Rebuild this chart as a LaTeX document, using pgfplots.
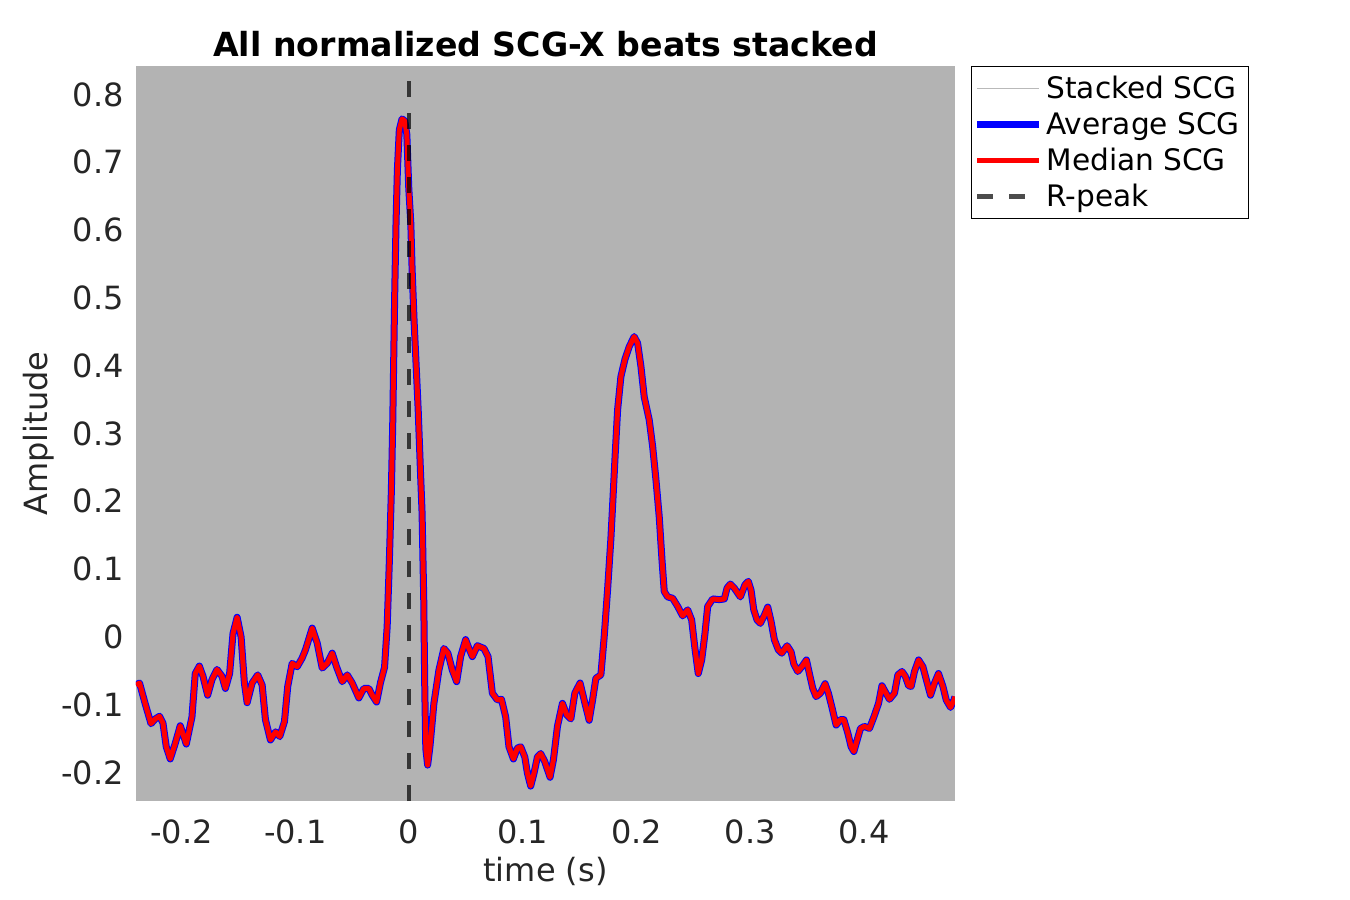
\documentclass[border=0pt]{standalone}
\usepackage{pgfplots}
\pgfplotsset{compat=1.18}
\usepackage{pgfplotstable}
\usepackage{fontspec}
\setmainfont{DejaVu Sans}
\definecolor{bggray}{RGB}{179,179,179}
\definecolor{axgray}{RGB}{38,38,38}
\definecolor{stackgray}{RGB}{185,185,185}

\pgfplotstableread{
x y
-0.2400 -0.071
-0.2369 -0.068
-0.2320 -0.098
-0.2268 -0.128
-0.2231 -0.121
-0.2193 -0.117
-0.2163 -0.127
-0.2134 -0.162
-0.2099 -0.180
-0.2055 -0.157
-0.2011 -0.131
-0.1958 -0.158
-0.1908 -0.118
-0.1879 -0.054
-0.1843 -0.043
-0.1811 -0.058
-0.1770 -0.086
-0.1732 -0.063
-0.1688 -0.048
-0.1644 -0.058
-0.1614 -0.076
-0.1577 -0.054
-0.1547 0.005
-0.1511 0.029
-0.1476 0.000
-0.1447 -0.068
-0.1423 -0.097
-0.1379 -0.068
-0.1330 -0.056
-0.1291 -0.071
-0.1262 -0.122
-0.1218 -0.152
-0.1173 -0.140
-0.1136 -0.147
-0.1095 -0.125
-0.1066 -0.073
-0.1027 -0.039
-0.0983 -0.044
-0.0939 -0.031
-0.0910 -0.019
-0.0851 0.013
-0.0807 -0.009
-0.0763 -0.046
-0.0719 -0.039
-0.0675 -0.024
-0.0637 -0.044
-0.0587 -0.066
-0.0543 -0.056
-0.0499 -0.068
-0.0441 -0.090
-0.0397 -0.076
-0.0353 -0.076
-0.0323 -0.086
-0.0285 -0.096
-0.0250 -0.067
-0.0215 -0.045
-0.0192 0.015
-0.0173 0.110
-0.0155 0.215
-0.0143 0.314
-0.0134 0.413
-0.0125 0.511
-0.0114 0.610
-0.0102 0.689
-0.0085 0.748
-0.0061 0.764
-0.0037 0.761
-0.0019 0.741
-0.0002 0.662
0.0016 0.610
0.0027 0.544
0.0045 0.465
0.0063 0.400
0.0081 0.334
0.0100 0.248
0.0115 0.183
0.0130 0.052
0.0139 -0.080
0.0148 -0.165
0.0164 -0.189
0.0184 -0.162
0.0219 -0.098
0.0263 -0.049
0.0307 -0.017
0.0342 -0.024
0.0381 -0.049
0.0419 -0.066
0.0454 -0.029
0.0498 -0.004
0.0527 -0.017
0.0557 -0.029
0.0601 -0.013
0.0659 -0.017
0.0695 -0.029
0.0733 -0.083
0.0777 -0.093
0.0813 -0.092
0.0850 -0.118
0.0879 -0.162
0.0918 -0.180
0.0953 -0.164
0.0982 -0.162
0.1018 -0.177
0.1041 -0.201
0.1070 -0.220
0.1099 -0.201
0.1129 -0.177
0.1158 -0.172
0.1194 -0.184
0.1240 -0.207
0.1270 -0.181
0.1305 -0.132
0.1349 -0.098
0.1387 -0.115
0.1423 -0.121
0.1458 -0.083
0.1504 -0.068
0.1540 -0.093
0.1584 -0.123
0.1614 -0.093
0.1643 -0.061
0.1687 -0.056
0.1716 0.000
0.1746 0.070
0.1775 0.145
0.1795 0.210
0.1813 0.270
0.1834 0.335
0.1863 0.384
0.1898 0.409
0.1936 0.428
0.1980 0.443
0.2010 0.433
0.2039 0.399
0.2068 0.354
0.2112 0.320
0.2142 0.281
0.2171 0.232
0.2200 0.177
0.2224 0.114
0.2244 0.067
0.2274 0.059
0.2318 0.057
0.2362 0.045
0.2406 0.031
0.2450 0.040
0.2485 0.025
0.2514 -0.017
0.2543 -0.054
0.2573 -0.034
0.2602 0.005
0.2626 0.045
0.2670 0.056
0.2728 0.055
0.2772 0.056
0.2796 0.072
0.2825 0.078
0.2860 0.072
0.2913 0.059
0.2954 0.077
0.2983 0.082
0.3007 0.069
0.3031 0.040
0.3060 0.025
0.3089 0.020
0.3124 0.032
0.3154 0.044
0.3183 0.023
0.3212 -0.004
0.3247 -0.019
0.3277 -0.024
0.3324 -0.013
0.3359 -0.022
0.3383 -0.040
0.3418 -0.051
0.3453 -0.044
0.3494 -0.034
0.3520 -0.054
0.3550 -0.076
0.3579 -0.088
0.3617 -0.083
0.3658 -0.069
0.3687 -0.083
0.3717 -0.103
0.3755 -0.130
0.3793 -0.122
0.3823 -0.122
0.3858 -0.142
0.3887 -0.162
0.3911 -0.169
0.3940 -0.152
0.3969 -0.135
0.4004 -0.132
0.4048 -0.135
0.4087 -0.118
0.4128 -0.098
0.4158 -0.072
0.4187 -0.081
0.4224 -0.092
0.4268 -0.083
0.4298 -0.056
0.4334 -0.051
0.4363 -0.058
0.4392 -0.072
0.4415 -0.073
0.4444 -0.051
0.4480 -0.034
0.4518 -0.044
0.4556 -0.068
0.4585 -0.086
0.4620 -0.068
0.4655 -0.054
0.4694 -0.073
0.4723 -0.093
0.4761 -0.104
0.4791 -0.093
0.4800 -0.088
}\scg

\begin{document}
\begin{tikzpicture}
\path[use as bounding box] (-68pt,-49.5pt) rectangle (607pt,400.5pt);
\begin{axis}[
  scale only axis, width=409.5pt, height=367.5pt,
  xmin=-0.24, xmax=0.48, ymin=-0.242, ymax=0.842,
  axis background/.style={fill=bggray},
  axis line style={draw=none},
  major tick length=0pt,
  xtick={-0.2,-0.1,0,0.1,0.2,0.3,0.4},
  xticklabels={-0.2,-0.1,0,0.1,0.2,0.3,0.4},
  ytick={-0.2,-0.1,0,0.1,0.2,0.3,0.4,0.5,0.6,0.7,0.8},
  yticklabels={-0.2,-0.1,0,0.1,0.2,0.3,0.4,0.5,0.6,0.7,0.8},
  tick label style={font=\fontsize{16pt}{19pt}\selectfont, text=axgray, inner sep=0pt},
  xticklabel style={anchor=base, yshift=-21pt},
  yticklabel style={anchor=east, xshift=-6pt},
  xlabel={time (s)}, ylabel={Amplitude},
  label style={font=\fontsize{16pt}{19pt}\selectfont, text=axgray, inner sep=0pt},
  xlabel style={at={(axis description cs:0.5,-0.1102)}, anchor=base},
  ylabel style={at={(axis description cs:-0.1085,0.5)}, anchor=base},
  title={All normalized SCG-X beats stacked},
  title style={at={(axis description cs:0.5,0.997)}, anchor=base, inner sep=0pt,
    font=\fontsize{16.6pt}{20pt}\selectfont\bfseries, text=black},
  legend style={at={(axis description cs:1.0195,1.0)}, anchor=north west,
    draw=black, line width=0.5pt, fill=white,
    font=\fontsize{14.8pt}{17pt}\selectfont,
    inner xsep=1.25pt, inner ysep=2pt, row sep=0.26pt, column sep=1.75pt,
    nodes={inner sep=0pt, text height=14pt, text depth=3.8pt}},
  legend cell align=left,
  legend image code/.code={\draw[#1] (0pt,0pt) -- (31pt,0pt);},
]
\addlegendimage{color=stackgray, line width=0.5pt}
\addlegendentry{Stacked SCG\rule{3.25pt}{0pt}}
\addplot[color=blue, line width=3.5pt, line join=round] table[x=x,y=y]{\scg};
\addlegendentry{Average SCG\rule{3.25pt}{0pt}}
\addplot[color=red, line width=2.5pt, line join=round] table[x=x,y=y]{\scg};
\addlegendentry{Median SCG\rule{3.25pt}{0pt}}
\addplot[color=black, opacity=0.7, line width=2.25pt, dash pattern=on 8pt off 8pt] coordinates {(0,-0.242) (0,0.842)};
\addlegendentry{R-peak\rule{3.25pt}{0pt}}
\end{axis}
\end{tikzpicture}
\end{document}
